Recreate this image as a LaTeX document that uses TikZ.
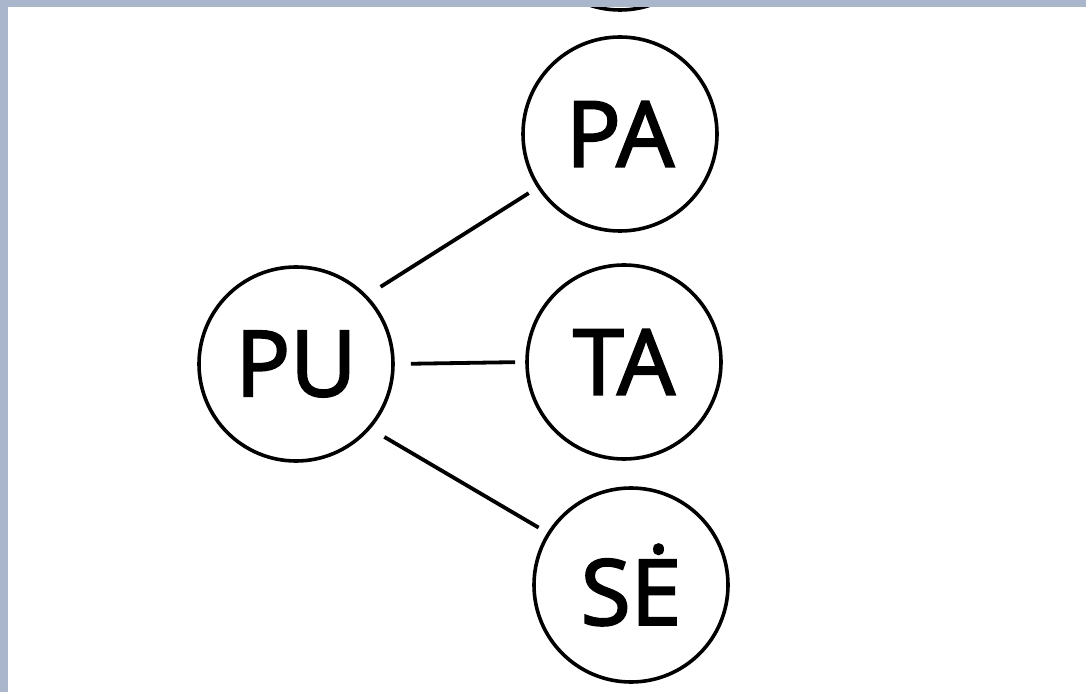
\documentclass[tikz,border=0pt]{standalone}
\usepackage{fontspec}
\setmainfont{Open Sans}
\newfontfamily\syllfont{Open Sans}[FakeBold=2.4]
\usepackage{tikz}
\usetikzlibrary{positioning}

\definecolor{scanband}{RGB}{169,182,203}

\begin{document}
\begin{tikzpicture}[x=1pt, y=-1pt,
    syll/.style={draw, circle, line width=3.6pt, minimum size=194pt, inner sep=0pt,
                 font=\syllfont\fontsize{91}{91}\selectfont},
    link/.style={line width=3.8pt, shorten <=16pt, shorten >=10pt}]

\useasboundingbox (0,0) rectangle (1086,692);
\fill[white] (0,0) rectangle (1086,692);

% Syllable circles
\node[syll] (pu) at (296,364) {PU};
\node[syll] (top) at (620,-87) {};
\node[syll] (pa) at (620,134) {PA};
\node[syll] (ta) at (624,362) {TA};
\node[syll] (se) at (631,585) {SĖ};

% Connectors from PU
\foreach \n/\a/\b in {pa/44/213, ta/0/180, se/319/148} {
    \draw[link] (pu.\a) -- (\n.\b);
}

% Scan border
\fill[scanband] (0,0) rectangle (1086,7);
\fill[scanband] (0,0) rectangle (8,692);

\end{tikzpicture}
\end{document}
